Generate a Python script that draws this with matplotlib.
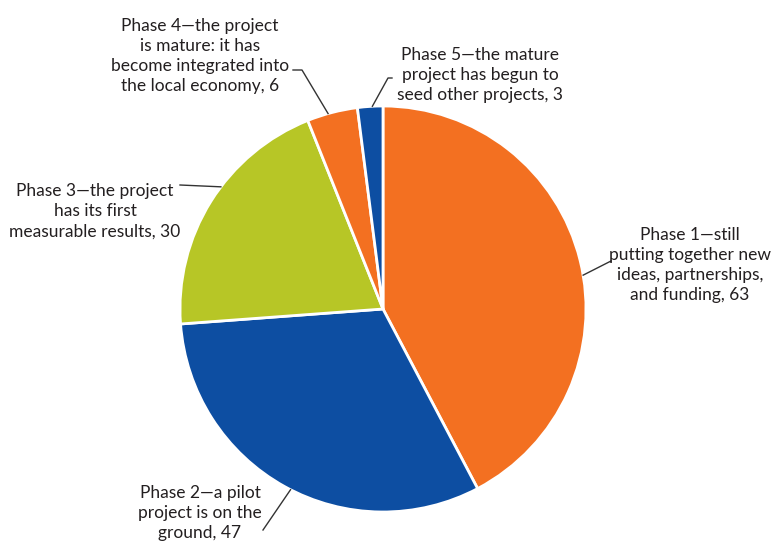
import numpy as np
import matplotlib as mpl
mpl.use('Agg')
import matplotlib.pyplot as plt

labels = ['Phase 1\u2014still\nputting together new\nideas, partnerships,\nand funding, 63',
          'Phase 2\u2014a pilot\nproject is on the\nground, 47',
          'Phase 3\u2014the project\nhas its first\nmeasurable results, 30',
          'Phase 4\u2014the project\nis mature: it has\nbecome integrated into\nthe local economy, 6',
          'Phase 5\u2014the mature\nproject has begun to\nseed other projects, 3']
values = [63, 47, 30, 6, 3]
colors = ['#F37021', '#0D4EA2', '#B7C626', '#F37021', '#0D4EA2']

# layout (pixel coords, y down)
cx, cy, rad = 383, 309, 203
text_pos = [(690, 265), (200, 513), (95, 211), (200, 56), (480, 75)]
leader_ang = [9.6, -117.1, 143, 105.7, 93]   # where the leader touches the pie edge
leaders = [[(611, 261)], [(263, 530)], [(180, 185)], [(302, 70), (293, 70)], [(388, 78), (392, 78)]]

plt.rcParams['font.family'] = ['Lato', 'DejaVu Sans']
fig = plt.figure(figsize=(7.8, 5.43), dpi=100)
ax = fig.add_axes([0, 0, 1, 1])

H = 543
ax.pie(values, colors=colors, startangle=90, counterclock=False,
       center=(cx, H - cy), radius=rad, frame=True,
       wedgeprops=dict(edgecolor='white', linewidth=2))
ax.set_xlim(0, 780)
ax.set_ylim(0, 543)
ax.set_aspect('equal')
ax.axis('off')

for i, lab in enumerate(labels):
    ang = np.deg2rad(leader_ang[i])
    x0 = cx + rad * np.cos(ang)
    y0 = (H - cy) + rad * np.sin(ang)
    xs = [x0] + [p[0] for p in leaders[i]]
    ys = [y0] + [H - p[1] for p in leaders[i]]
    ax.plot(xs, ys, color='#333333', lw=1)
    tx, ty = text_pos[i]
    ax.text(tx, H - ty, lab, ha='center', va='center', fontsize=12.5,
            color='#231F20', linespacing=1.33)

fig.savefig('out.png', dpi=100)
